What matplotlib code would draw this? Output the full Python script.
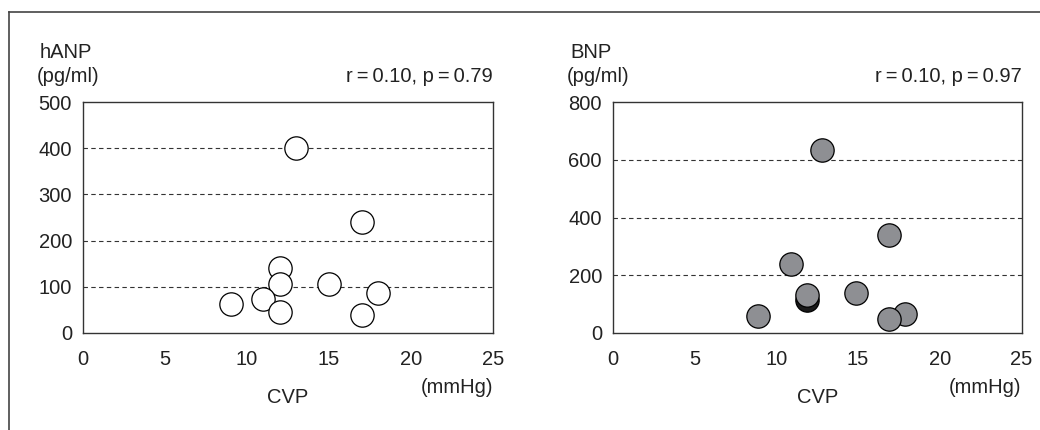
import matplotlib
matplotlib.use('Agg')
import matplotlib.pyplot as plt
from matplotlib.lines import Line2D

plt.rcParams['font.family'] = ['Liberation Sans', 'DejaVu Sans']
plt.rcParams['font.size'] = 14.5
plt.rcParams['text.color'] = '#222222'
plt.rcParams['xtick.color'] = '#222222'
plt.rcParams['ytick.color'] = '#222222'

# CVP (mmHg) vs hANP (pg/ml)
anp_cvp = [13, 17, 12, 12, 15, 18, 9, 11, 12, 17]
anp_val = [400, 241, 140, 107, 107, 87, 63, 74, 45, 39]

# CVP (mmHg) vs BNP (pg/ml); one point hidden behind another (drawn black)
bnp_cvp = [12.8, 16.9, 10.9, 11.9, 14.85, 8.9, 17.85, 16.9]
bnp_val = [633, 341, 239, 131, 139, 59, 66, 47]
bnp_hidden_cvp = [11.9]
bnp_hidden_val = [114]

x_ticks = [0, 5, 10, 15, 20, 25]
anp_ticks = [0, 100, 200, 300, 400, 500]
bnp_ticks = [0, 200, 400, 600, 800]

line_col = '#333333'

fig = plt.figure(figsize=(10.4, 4.3), dpi=100)

# frame lines of the cropped figure
fig.add_artist(Line2D([9/1040, 1], [1 - 11.5/430, 1 - 11.5/430], color='#444444', lw=1.2))
fig.add_artist(Line2D([9/1040, 9/1040], [0, 1 - 11.5/430], color='#444444', lw=1.2))


def setup_axes(ax, yticks, ylabel, stat):
    ax.set_xlim(0, 25)
    ax.set_ylim(yticks[0], yticks[-1])
    ax.set_xticks(x_ticks)
    ax.set_yticks(yticks)
    for s in ax.spines.values():
        s.set_color(line_col)
        s.set_linewidth(1.0)
    ax.tick_params(axis='x', direction='in', length=8, width=1, color=line_col, pad=12)
    ax.tick_params(axis='y', length=0, pad=8)
    for t in ax.xaxis.get_major_ticks():
        if t.get_loc() in (0, 25):
            t.tick1line.set_visible(False)
    for v in yticks[1:-1]:
        ax.axhline(v, color=line_col, lw=0.8, ls=(0, (4, 3)), zorder=1)
    ax.text(-0.105, 1.19, ylabel, transform=ax.transAxes, ha='left', va='baseline')
    ax.text(-0.113, 1.11, '(pg/ml)', transform=ax.transAxes, ha='left', va='center')
    ax.text(1.0, 1.11, stat, transform=ax.transAxes, ha='right', va='center')
    ax.text(0.5, -0.28, 'CVP', transform=ax.transAxes, ha='center', va='center')
    ax.text(1.0, -0.235, '(mmHg)', transform=ax.transAxes, ha='right', va='center')


ax1 = fig.add_axes([83/1040, 1 - 333/430, 410/1040, 231/430])
setup_axes(ax1, anp_ticks, 'hANP', 'r\u2009=\u20090.10, p\u2009=\u20090.79')
ax1.plot(anp_cvp, anp_val, 'o', ms=16.8, mfc='white', mec='black', mew=0.9, zorder=3)

ax2 = fig.add_axes([613/1040, 1 - 333/430, 408.5/1040, 231/430])
setup_axes(ax2, bnp_ticks, 'BNP', 'r\u2009=\u20090.10, p\u2009=\u20090.97')
ax2.plot(bnp_hidden_cvp, bnp_hidden_val, 'o', ms=16.8, mfc='#1a1a1a', mec='black', mew=0.9, zorder=3)
ax2.plot(bnp_cvp, bnp_val, 'o', ms=16.8, mfc='#8e8f93', mec='black', mew=0.9, zorder=4)

fig.savefig('out.png', dpi=100)
